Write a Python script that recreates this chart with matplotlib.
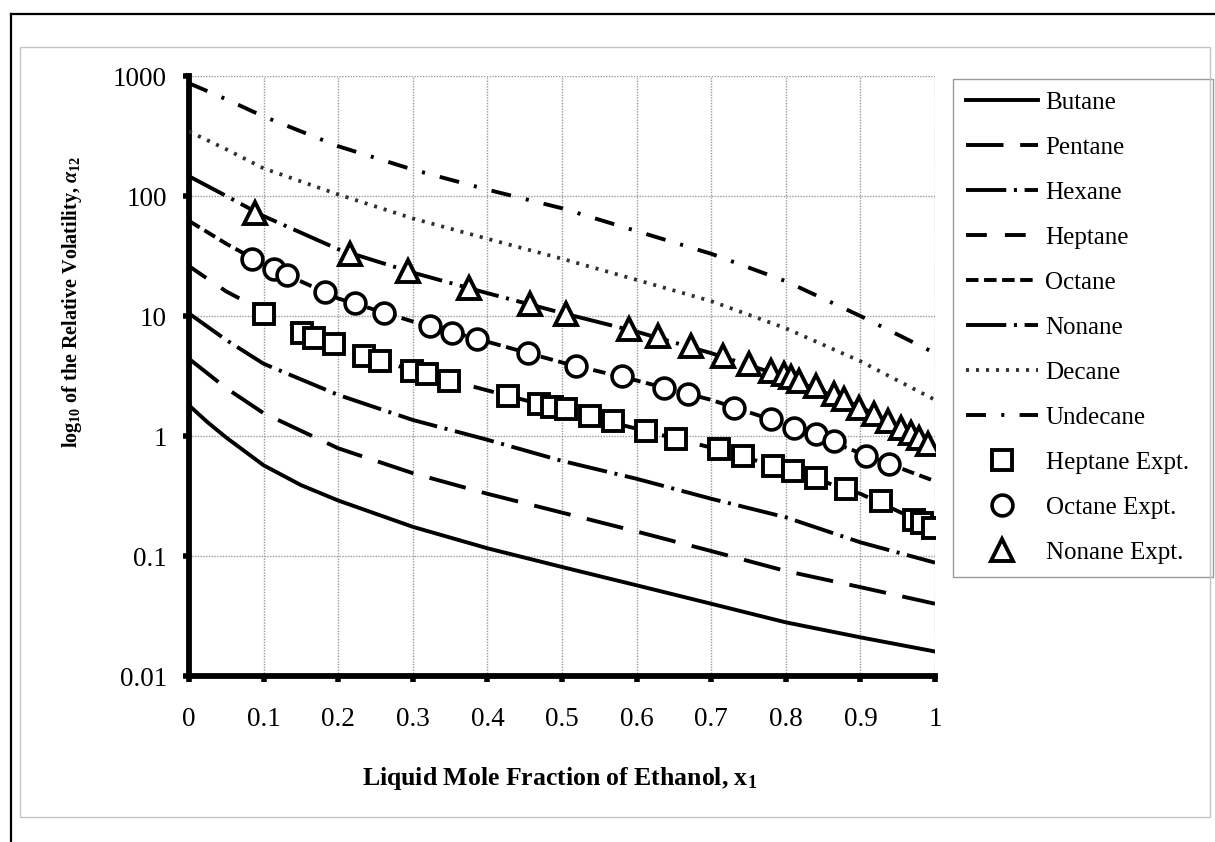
import matplotlib
matplotlib.use("Agg")
import matplotlib.pyplot as plt
from matplotlib.lines import Line2D
from matplotlib.patches import Rectangle
from matplotlib.ticker import FixedLocator, NullLocator, FixedFormatter

plt.rcParams['font.family'] = ['Liberation Serif', 'DejaVu Serif']
plt.rcParams['mathtext.fontset'] = 'custom'
plt.rcParams['mathtext.rm'] = 'Liberation Serif:bold'
plt.rcParams['mathtext.it'] = 'Liberation Serif:italic:bold'
plt.rcParams['mathtext.bf'] = 'Liberation Serif:bold'
plt.rcParams['lines.scale_dashes'] = False

# ---------------- data ----------------
x_butane = [0.0, 0.025, 0.05, 0.1, 0.15, 0.2, 0.3, 0.4, 0.5, 0.6, 0.7, 0.8, 0.9, 1.0]
butane   = [1.8, 1.3, 0.97, 0.57, 0.39, 0.29, 0.175, 0.116, 0.081, 0.057, 0.040, 0.028, 0.021, 0.016]

x_model = [0.0, 0.05, 0.1, 0.2, 0.3, 0.4, 0.5, 0.6, 0.7, 0.8, 0.9, 1.0]
pentane  = [4.4, 2.5, 1.55, 0.79, 0.49, 0.33, 0.23, 0.16, 0.11, 0.075, 0.055, 0.040]
hexane   = [10.5, 6.3, 4.0, 2.2, 1.36, 0.93, 0.62, 0.44, 0.30, 0.21, 0.13, 0.088]
heptane  = [26, 16, 11, 5.6, 3.5, 2.4, 1.65, 1.15, 0.80, 0.53, 0.33, 0.17]
octane   = [62, 40, 27, 14, 9.0, 6.1, 4.1, 2.9, 2.0, 1.25, 0.72, 0.42]
nonane   = [146, 100, 68, 36, 23, 15.5, 10.6, 7.4, 4.9, 3.1, 1.75, 0.82]
decane   = [345, 245, 170, 103, 65, 44, 30, 20, 13.3, 7.9, 4.2, 2.0]
undecane = [870, 640, 460, 260, 166, 113, 79, 51, 33, 19.5, 10, 4.9]

hep_x = [0.100, 0.151, 0.167, 0.195, 0.234, 0.256, 0.299, 0.319, 0.348, 0.428, 0.469,
         0.486, 0.506, 0.538, 0.569, 0.613, 0.653, 0.711, 0.743, 0.783, 0.810, 0.841,
         0.881, 0.928, 0.972, 0.982, 0.997]
hep_y = [10.3, 7.2, 6.5, 5.8, 4.6, 4.2, 3.5, 3.3, 2.9, 2.15, 1.85,
         1.75, 1.68, 1.47, 1.33, 1.10, 0.94, 0.78, 0.68, 0.56, 0.51, 0.45,
         0.36, 0.29, 0.20, 0.19, 0.17]

oct_x = [0.084, 0.114, 0.131, 0.182, 0.222, 0.261, 0.323, 0.352, 0.386, 0.455, 0.519,
         0.580, 0.637, 0.669, 0.730, 0.780, 0.811, 0.841, 0.865, 0.908, 0.938]
oct_y = [30, 24.5, 22, 16, 12.8, 10.5, 8.2, 7.2, 6.4, 4.9, 3.8,
         3.15, 2.5, 2.24, 1.7, 1.38, 1.17, 1.04, 0.91, 0.68, 0.58]

non_x = [0.088, 0.216, 0.294, 0.375, 0.457, 0.506, 0.590, 0.629, 0.673, 0.716, 0.751,
         0.780, 0.798, 0.807, 0.818, 0.841, 0.865, 0.878, 0.898, 0.918, 0.937, 0.954,
         0.968, 0.979, 0.990]
non_y = [72, 33, 23.6, 17, 12.5, 10.3, 7.8, 6.8, 5.6, 4.6, 4.0,
         3.5, 3.3, 3.1, 2.9, 2.6, 2.24, 2.03, 1.71, 1.52, 1.33, 1.17,
         1.06, 0.96, 0.86]

model_names = ["Butane", "Pentane", "Hexane", "Heptane", "Octane", "Nonane", "Decane", "Undecane"]
expt_names = ["Heptane Expt.", "Octane Expt.", "Nonane Expt."]
x_ticks = [0, 0.1, 0.2, 0.3, 0.4, 0.5, 0.6, 0.7, 0.8, 0.9, 1]
x_tick_labels = ["0", "0.1", "0.2", "0.3", "0.4", "0.5", "0.6", "0.7", "0.8", "0.9", "1"]
y_ticks = [0.01, 0.1, 1, 10, 100, 1000]
y_tick_labels = ["0.01", "0.1", "1", "10", "100", "1000"]

# ---------------- figure ----------------
W, H = 1215, 842
fig = plt.figure(figsize=(W / 100, H / 100), dpi=100)
fig.patch.set_facecolor('white')

fig.add_artist(Line2D([11 / W, 11 / W], [0, 1 - 14 / H], transform=fig.transFigure, color='black', lw=1.6))
fig.add_artist(Line2D([11 / W, 1], [1 - 14 / H, 1 - 14 / H], transform=fig.transFigure, color='black', lw=1.6))
fig.add_artist(Rectangle((20 / W, 1 - 817 / H), (1210 - 20) / W, (817 - 47) / H, transform=fig.transFigure,
                         fill=False, edgecolor='#c4c4c4', lw=1.0))

ax = fig.add_axes([189 / W, 1 - 676 / H, 746 / W, 600 / H])
ax.set_yscale('log')
ax.set_xlim(0, 1)
ax.set_ylim(0.01, 1000)

lw = 2.8
styles = [
    dict(ls='-'),
    dict(ls=(0, (27, 12))),
    dict(ls=(0, (29, 5.5, 2.2, 5.5))),
    dict(ls=(0, (15, 13))),
    dict(ls=(0, (9, 4))),
    dict(ls=(0, (29, 5.5, 2.2, 5.5))),
    dict(ls=(0, (2.2, 5.0)), color='#303030', lw=2.7),
    dict(ls=(0, (14.4, 11, 2.2, 11))),
]
xs = [x_butane] + [x_model] * 7
series = [butane, pentane, hexane, heptane, octane, nonane, decane, undecane]
handles = []
for name, xx, ys, st in zip(model_names, xs, series, styles):
    kw = dict(color='black', lw=lw)
    kw.update(st)
    ln, = ax.plot(xx, ys, label=name, zorder=3, **kw)
    handles.append(ln)

mk = dict(color='black', mfc='white', ls='none', zorder=5)
h1, = ax.plot(hep_x, hep_y, marker='s', ms=14.5, mew=2.8, label=expt_names[0], **mk)
h2, = ax.plot(oct_x, oct_y, marker='o', ms=15, mew=2.6, label=expt_names[1], **mk)
h3, = ax.plot(non_x, non_y, marker='^', ms=16, mew=2.8, label=expt_names[2], **mk)
handles += [h1, h2, h3]

for s in ['top', 'right']:
    ax.spines[s].set_visible(False)
for s in ['left', 'bottom']:
    ax.spines[s].set_linewidth(4.2)
ax.xaxis.set_major_locator(FixedLocator(x_ticks))
ax.xaxis.set_major_formatter(FixedFormatter(x_tick_labels))
ax.yaxis.set_major_locator(FixedLocator(y_ticks))
ax.yaxis.set_major_formatter(FixedFormatter(y_tick_labels))
ax.yaxis.set_minor_locator(NullLocator())
ax.tick_params(axis='both', which='major', direction='out', length=4, width=4,
               labelsize=19.5, colors='black')
ax.tick_params(axis='x', pad=18)
ax.tick_params(axis='y', pad=12)
ax.grid(True, which='major', color='#9a9a9a', ls=(0, (1, 1)), lw=1.0, zorder=0)
ax.set_axisbelow(True)

fig.text(560 / W, 1 - 779 / H, r"Liquid Mole Fraction of Ethanol, x$_1$",
         ha='center', va='center', fontsize=18.5, fontweight='bold')
fig.text(72 / W, 1 - 302 / H, r"log$_{10}$ of the Relative Volatility, $\alpha_{12}$",
         ha='center', va='center', rotation=90, fontsize=14.5, fontweight='bold')

leg = ax.legend(handles=handles, loc='upper left',
                bbox_to_anchor=(953 / W, 1 - 577 / H, 260 / W, (577 - 79) / H),
                bbox_transform=fig.transFigure, mode='expand', borderaxespad=0, fontsize=18,
                handlelength=2.9, handletextpad=0.3, labelspacing=0.9, borderpad=0.5,
                fancybox=False, frameon=True, edgecolor='#808080')
leg.get_frame().set_linewidth(1.0)

fig.savefig('out.png', dpi=100, facecolor='white')
